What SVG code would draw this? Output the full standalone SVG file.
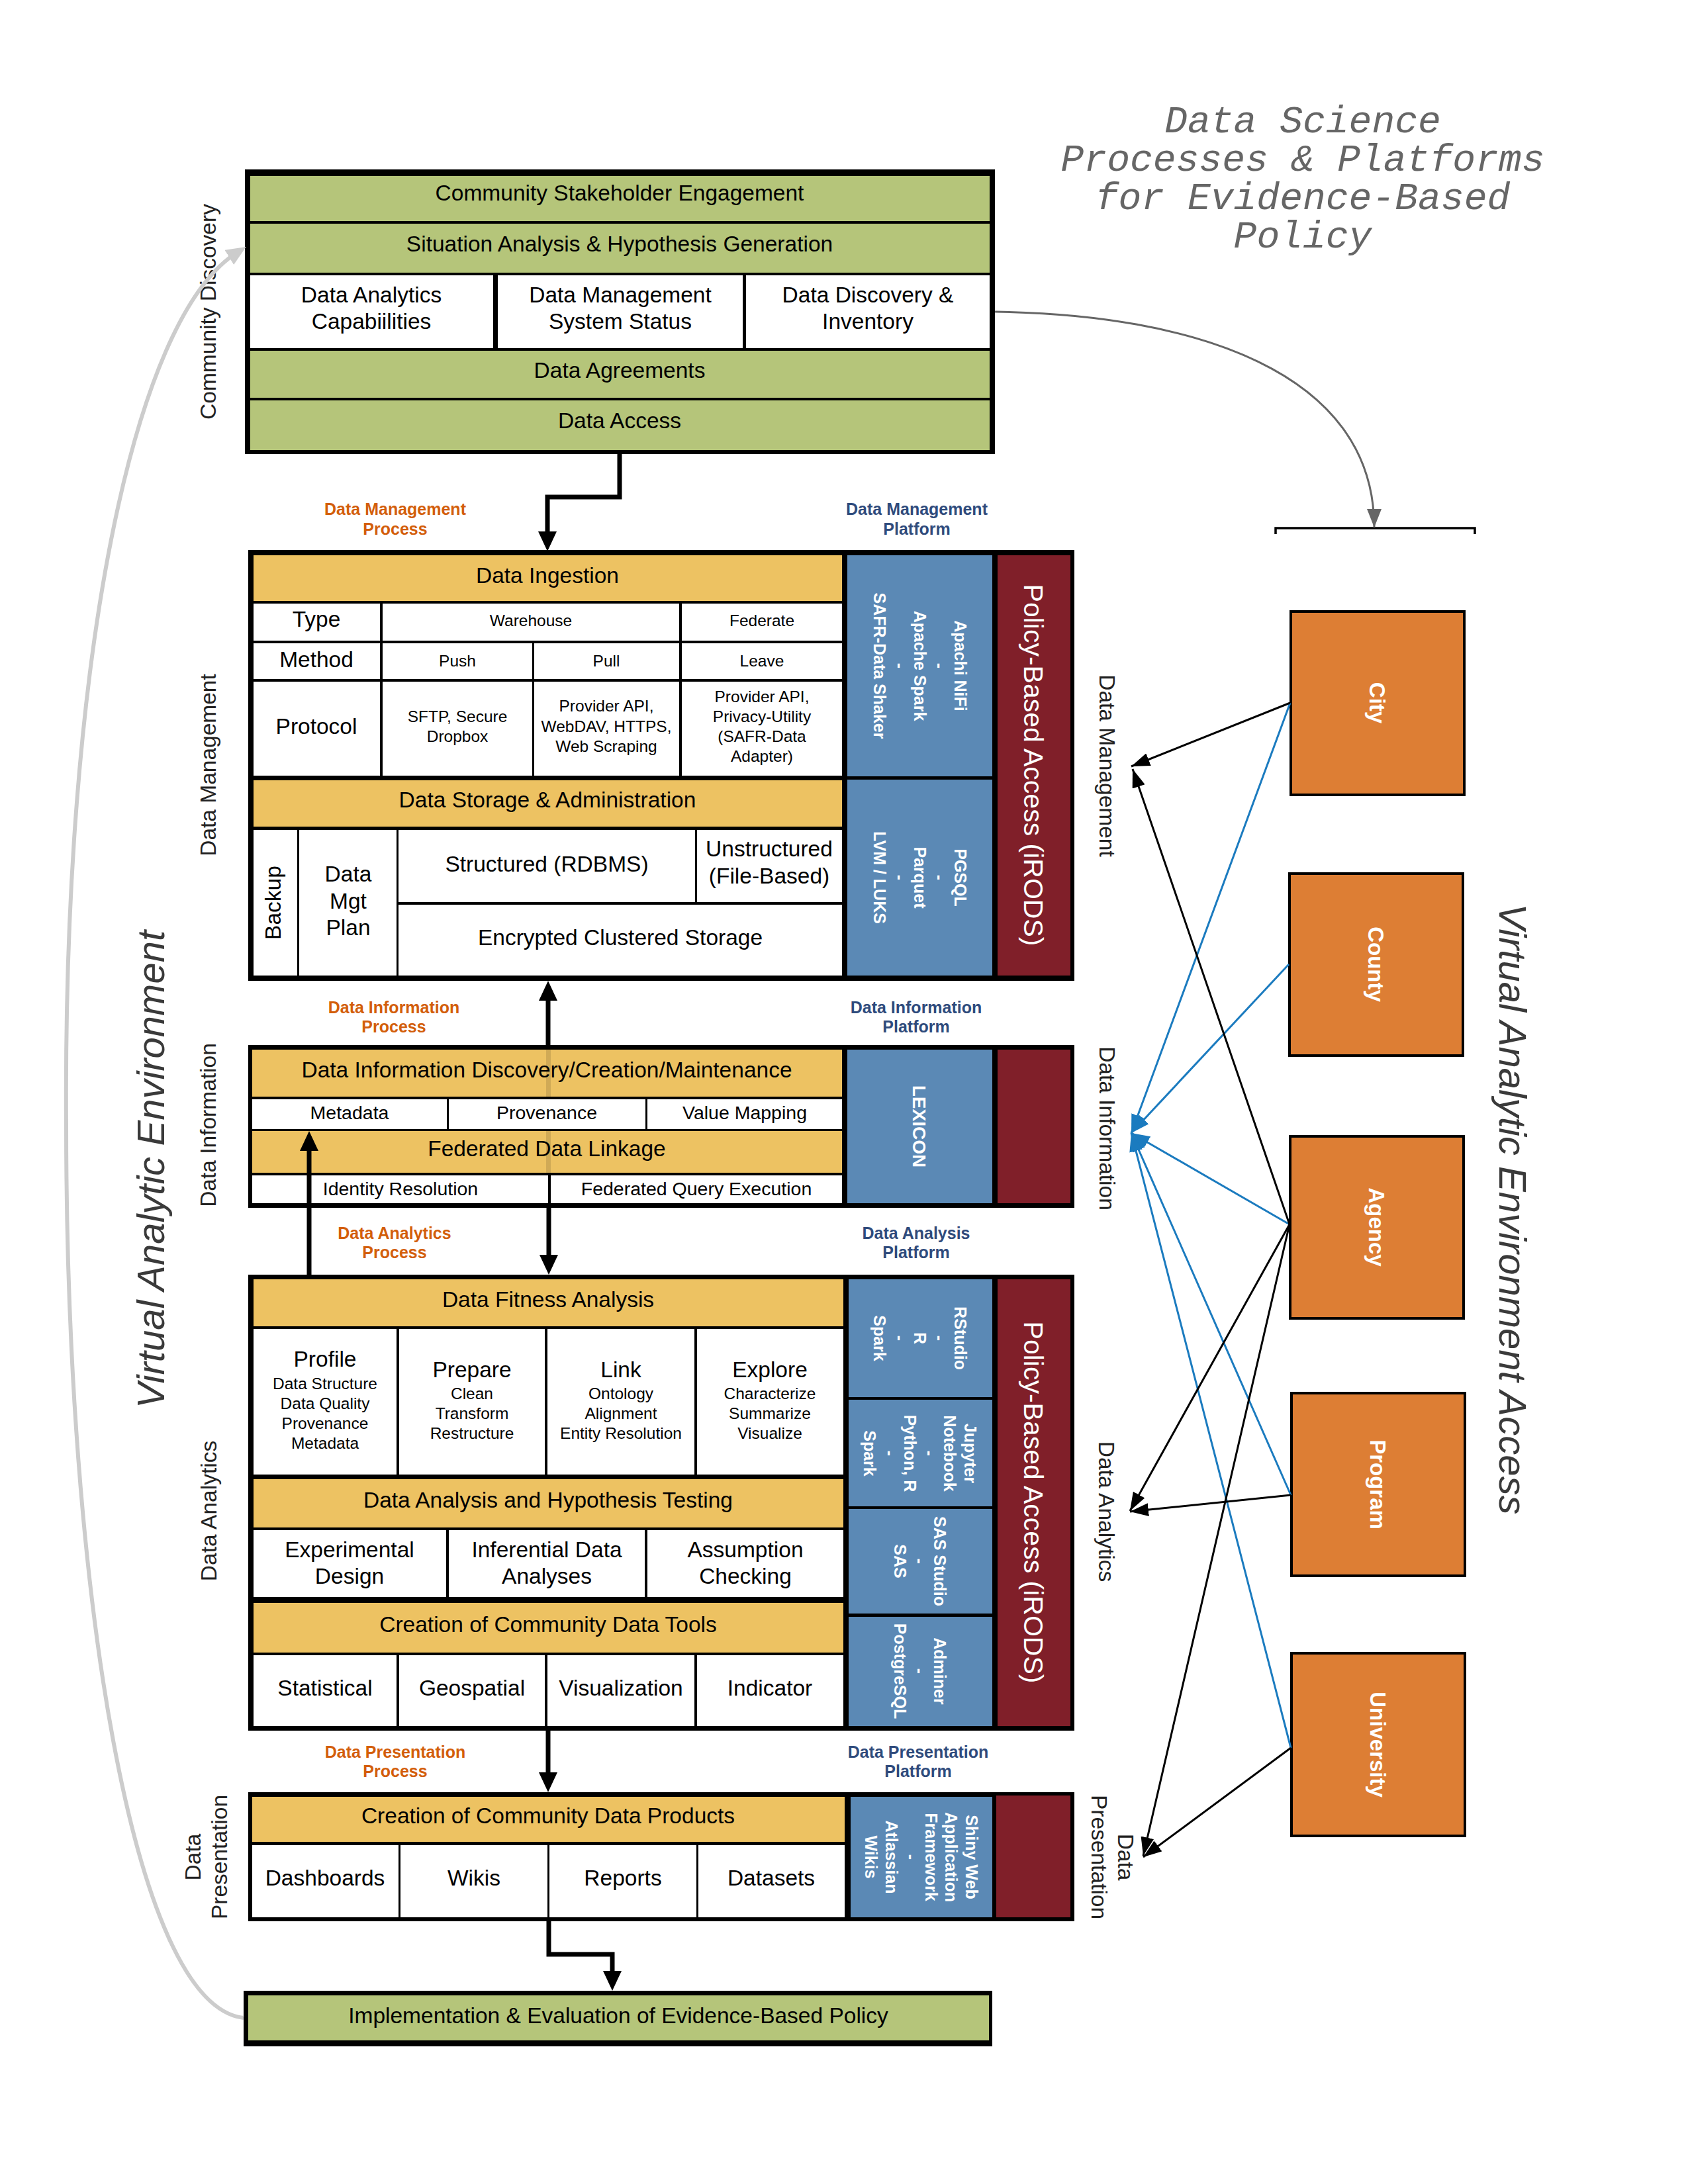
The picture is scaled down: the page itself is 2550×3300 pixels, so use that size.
<svg xmlns="http://www.w3.org/2000/svg" width="2550" height="3300" viewBox="0 0 2550 3300">
<defs>
<style>
text{font-family:"Liberation Sans",Arial,sans-serif;text-anchor:middle;fill:#000}
.L{font-size:33.5px}
.M{font-size:28.5px}
.S{font-size:24.5px}
.bw{font-size:25px;font-weight:bold;fill:#fff}
.lx{font-size:28px;font-weight:bold;fill:#fff}
.rw{font-size:41px;fill:#fff}
.pr{font-size:25px;font-weight:bold;fill:#d35e0b}
.pl{font-size:25px;font-weight:bold;fill:#2f4b7c}
.sd{font-size:33.5px;fill:#222}
.va{font-size:58px;font-style:italic;fill:#3a3a3a}
.ti{font-family:"Liberation Mono","Courier New",monospace;font-size:58px;font-style:italic;fill:#666}
.ow{font-size:33px;font-weight:bold;fill:#fff}
.bk{fill:#000}
.g{fill:#b5c57a}
.y{fill:#edc262}
.w{fill:#fff}
.b{fill:#5b89b5}
.r{fill:#801f29}
.ob{fill:#dd7e34;stroke:#000;stroke-width:4}
.thick{fill:none;stroke:#000;stroke-width:7;marker-end:url(#aT)}
.blk{fill:none;stroke:#000;stroke-width:3;marker-end:url(#aK)}
.blu{fill:none;stroke:#1b7bbf;stroke-width:3;marker-end:url(#aB)}
</style>
<marker id="aT" viewBox="0 0 10 10" refX="5" refY="5" markerUnits="userSpaceOnUse" markerWidth="30" markerHeight="28" preserveAspectRatio="none" orient="auto"><path d="M0,0L10,5L0,10z" fill="#000"/></marker>
<marker id="aK" viewBox="0 0 10 10" refX="10" refY="5" markerUnits="userSpaceOnUse" markerWidth="28" markerHeight="20" preserveAspectRatio="none" orient="auto"><path d="M0,0L10,5L0,10z" fill="#000"/></marker>
<marker id="aB" viewBox="0 0 10 10" refX="10" refY="5" markerUnits="userSpaceOnUse" markerWidth="28" markerHeight="20" preserveAspectRatio="none" orient="auto"><path d="M0,0L10,5L0,10z" fill="#1b7bbf"/></marker>
<marker id="aG" viewBox="0 0 10 10" refX="10" refY="5" markerUnits="userSpaceOnUse" markerWidth="28" markerHeight="22" preserveAspectRatio="none" orient="auto"><path d="M0,0L10,5L0,10z" fill="#666"/></marker>
<marker id="aL" viewBox="0 0 10 10" refX="5" refY="5" markerUnits="userSpaceOnUse" markerWidth="30" markerHeight="26" preserveAspectRatio="none" orient="auto"><path d="M0,0L10,5L0,10z" fill="#ccc"/></marker>
</defs>
<rect width="2550" height="3300" fill="#fff"/>

<g id="title">
<text class="ti" x="1968" y="200">Data Science</text>
<text class="ti" x="1968" y="258">Processes &amp; Platforms</text>
<text class="ti" x="1968" y="316">for Evidence-Based</text>
<text class="ti" x="1968" y="374">Policy</text>
</g>

<g id="side-labels">
<text class="sd" transform="translate(326,471) rotate(-90)">Community Discovery</text>
<text class="sd" transform="translate(326,1156) rotate(-90)">Data Management</text>
<text class="sd" transform="translate(326,1700) rotate(-90)">Data Information</text>
<text class="sd" transform="translate(327,2283) rotate(-90)">Data Analytics</text>
<text class="sd" transform="translate(303,2806) rotate(-90)"><tspan x="0" y="0">Data</tspan><tspan x="0" y="40">Presentation</tspan></text>
<text class="va" transform="translate(248,1767) rotate(-90)">Virtual Analytic Environment</text>
<text class="sd" transform="translate(1661,1157) rotate(90)">Data Management</text>
<text class="sd" transform="translate(1661,1705) rotate(90)">Data Information</text>
<text class="sd" transform="translate(1660,2284) rotate(90)">Data Analytics</text>
<text class="sd" transform="translate(1689,2806) rotate(90)"><tspan x="0" y="0">Data</tspan><tspan x="0" y="40">Presentation</tspan></text>
<text class="va" transform="translate(2265,1827) rotate(90)">Virtual Analytic Environment Access</text>
</g>

<g id="stage-labels">
<text class="pr" x="597" y="778">Data Management</text><text class="pr" x="597" y="808">Process</text>
<text class="pl" x="1385" y="778">Data Management</text><text class="pl" x="1385" y="808">Platform</text>
<text class="pr" x="595" y="1531">Data Information</text><text class="pr" x="595" y="1560">Process</text>
<text class="pl" x="1384" y="1531">Data Information</text><text class="pl" x="1384" y="1560">Platform</text>
<text class="pr" x="596" y="1872">Data Analytics</text><text class="pr" x="596" y="1901">Process</text>
<text class="pl" x="1384" y="1872">Data Analysis</text><text class="pl" x="1384" y="1901">Platform</text>
<text class="pr" x="597" y="2656">Data Presentation</text><text class="pr" x="597" y="2685">Process</text>
<text class="pl" x="1387" y="2656">Data Presentation</text><text class="pl" x="1387" y="2685">Platform</text>
</g>

<g id="community-discovery">
<rect class="bk" x="370" y="256" width="1133" height="430"/>
<rect class="g" x="378" y="266" width="1117" height="68"/>
<rect class="g" x="378" y="338" width="1117" height="74"/>
<rect class="w" x="378" y="416" width="367" height="110"/>
<rect class="w" x="752" y="416" width="370" height="110"/>
<rect class="w" x="1127" y="416" width="368" height="110"/>
<rect class="g" x="378" y="530" width="1117" height="71"/>
<rect class="g" x="378" y="605" width="1117" height="75"/>
<text class="L" x="936" y="303">Community Stakeholder Engagement</text>
<text class="L" x="936" y="380">Situation Analysis &amp; Hypothesis Generation</text>
<text class="L" x="561"><tspan x="561" y="457">Data Analytics</tspan><tspan x="561" y="497">Capabiilities</tspan></text>
<text class="L" x="937"><tspan x="937" y="457">Data Management</tspan><tspan x="937" y="497">System Status</tspan></text>
<text class="L" x="1311"><tspan x="1311" y="457">Data Discovery &amp;</tspan><tspan x="1311" y="497">Inventory</tspan></text>
<text class="L" x="936" y="571">Data Agreements</text>
<text class="L" x="936" y="647">Data Access</text>
</g>

<g id="data-management">
<rect class="bk" x="375" y="831" width="1248" height="651"/>
<rect class="y" x="383" y="839" width="889" height="69"/>
<rect class="w" x="383" y="912" width="191" height="56"/>
<rect class="w" x="578" y="912" width="448" height="56"/>
<rect class="w" x="1030" y="912" width="242" height="56"/>
<rect class="w" x="383" y="972" width="191" height="54"/>
<rect class="w" x="578" y="972" width="226" height="54"/>
<rect class="w" x="807" y="972" width="219" height="54"/>
<rect class="w" x="1030" y="972" width="242" height="54"/>
<rect class="w" x="383" y="1030" width="191" height="142"/>
<rect class="w" x="578" y="1030" width="226" height="142"/>
<rect class="w" x="807" y="1030" width="219" height="142"/>
<rect class="w" x="1030" y="1030" width="242" height="142"/>
<rect class="y" x="383" y="1179" width="889" height="70"/>
<rect class="w" x="383" y="1254" width="66" height="220"/>
<rect class="w" x="452" y="1254" width="147" height="220"/>
<rect class="w" x="602" y="1254" width="448" height="109"/>
<rect class="w" x="1053" y="1254" width="219" height="109"/>
<rect class="w" x="602" y="1367" width="670" height="107"/>
<rect class="b" x="1280" y="839" width="219" height="334"/>
<rect class="b" x="1280" y="1178" width="219" height="296"/>
<rect class="r" x="1507" y="839" width="110" height="635"/>
<text class="L" x="827" y="881">Data Ingestion</text>
<text class="L" x="478" y="947">Type</text>
<text class="L" x="478" y="1008">Method</text>
<text class="L" x="478" y="1109">Protocol</text>
<text class="S" x="802" y="946">Warehouse</text>
<text class="S" x="1151" y="946">Federate</text>
<text class="S" x="691" y="1007">Push</text>
<text class="S" x="916" y="1007">Pull</text>
<text class="S" x="1151" y="1007">Leave</text>
<text class="S"><tspan x="691" y="1091">SFTP, Secure</tspan><tspan x="691" y="1121">Dropbox</tspan></text>
<text class="S"><tspan x="916" y="1075">Provider API,</tspan><tspan x="916" y="1106">WebDAV, HTTPS,</tspan><tspan x="916" y="1136">Web Scraping</tspan></text>
<text class="S"><tspan x="1151" y="1061">Provider API,</tspan><tspan x="1151" y="1091">Privacy-Utility</tspan><tspan x="1151" y="1121">(SAFR-Data</tspan><tspan x="1151" y="1151">Adapter)</tspan></text>
<text class="L" x="827" y="1220">Data Storage &amp; Administration</text>
<text class="L" transform="translate(424,1364) rotate(-90)">Backup</text>
<text class="L"><tspan x="526" y="1332">Data</tspan><tspan x="526" y="1373">Mgt</tspan><tspan x="526" y="1413">Plan</tspan></text>
<text class="L" x="826" y="1317">Structured (RDBMS)</text>
<text class="L"><tspan x="1162" y="1294">Unstructured</tspan><tspan x="1162" y="1335">(File-Based)</tspan></text>
<text class="L" x="937" y="1428">Encrypted Clustered Storage</text>
<text class="bw" transform="translate(1390,1006) rotate(90)"><tspan x="0" y="-51.6">Apachi NiFi</tspan><tspan x="0" y="-21.3">-</tspan><tspan x="0" y="9">Apache Spark</tspan><tspan x="0" y="39.3">-</tspan><tspan x="0" y="69.6">SAFR-Data Shaker</tspan></text>
<text class="bw" transform="translate(1390,1326) rotate(90)"><tspan x="0" y="-51.6">PGSQL</tspan><tspan x="0" y="-21.3">-</tspan><tspan x="0" y="9">Parquet</tspan><tspan x="0" y="39.3">-</tspan><tspan x="0" y="69.6">LVM / LUKS</tspan></text>
<text class="rw" transform="translate(1562,1156) rotate(90)" y="14.7">Policy-Based Access (iRODS)</text>
</g>

<g id="data-information">
<rect class="bk" x="375" y="1579" width="1248" height="246"/>
<rect class="y" x="381" y="1586" width="891" height="71"/>
<rect class="w" x="381" y="1661" width="294" height="45"/>
<rect class="w" x="678" y="1661" width="297" height="45"/>
<rect class="w" x="978" y="1661" width="294" height="45"/>
<rect class="y" x="381" y="1709" width="891" height="63"/>
<rect class="w" x="381" y="1776" width="447" height="42"/>
<rect class="w" x="832" y="1776" width="440" height="42"/>
<rect class="b" x="1280" y="1586" width="219" height="232"/>
<rect class="r" x="1507" y="1586" width="110" height="232"/>
<rect x="825" y="1586" width="7" height="71" fill="#000" opacity="0.12"/>
<rect x="825" y="1709" width="7" height="63" fill="#000" opacity="0.12"/>
<text class="L" x="826" y="1628">Data Information Discovery/Creation/Maintenance</text>
<text class="M" x="528" y="1691">Metadata</text>
<text class="M" x="826" y="1691">Provenance</text>
<text class="M" x="1125" y="1691">Value Mapping</text>
<text class="L" x="826" y="1747">Federated Data Linkage</text>
<text class="M" x="605" y="1806">Identity Resolution</text>
<text class="M" x="1052" y="1806">Federated Query Execution</text>
<text class="lx" transform="translate(1389,1702) rotate(90)" y="10">LEXICON</text>
</g>

<g id="data-analytics">
<rect class="bk" x="375" y="1926" width="1248" height="689"/>
<rect class="y" x="383" y="1933" width="891" height="71"/>
<rect class="w" x="383" y="2008" width="216" height="220"/>
<rect class="w" x="603" y="2008" width="220" height="220"/>
<rect class="w" x="827" y="2008" width="222" height="220"/>
<rect class="w" x="1053" y="2008" width="221" height="220"/>
<rect class="y" x="383" y="2235" width="891" height="73"/>
<rect class="w" x="383" y="2312" width="291" height="101"/>
<rect class="w" x="678" y="2312" width="296" height="101"/>
<rect class="w" x="978" y="2312" width="296" height="101"/>
<rect class="y" x="383" y="2422" width="891" height="75"/>
<rect class="w" x="383" y="2501" width="216" height="107"/>
<rect class="w" x="603" y="2501" width="220" height="107"/>
<rect class="w" x="827" y="2501" width="222" height="107"/>
<rect class="w" x="1053" y="2501" width="221" height="107"/>
<rect class="b" x="1282" y="1933" width="217" height="178"/>
<rect class="b" x="1282" y="2115" width="217" height="161"/>
<rect class="b" x="1282" y="2280" width="217" height="158"/>
<rect class="b" x="1282" y="2443" width="217" height="165"/>
<rect class="r" x="1507" y="1933" width="110" height="675"/>
<text class="L" x="828" y="1975">Data Fitness Analysis</text>
<text class="L" x="491" y="2065">Profile</text>
<text class="S"><tspan x="491" y="2099">Data Structure</tspan><tspan x="491" y="2129">Data Quality</tspan><tspan x="491" y="2159">Provenance</tspan><tspan x="491" y="2189">Metadata</tspan></text>
<text class="L" x="713" y="2081">Prepare</text>
<text class="S"><tspan x="713" y="2114">Clean</tspan><tspan x="713" y="2144">Transform</tspan><tspan x="713" y="2174">Restructure</tspan></text>
<text class="L" x="938" y="2081">Link</text>
<text class="S"><tspan x="938" y="2114">Ontology</tspan><tspan x="938" y="2144">Alignment</tspan><tspan x="938" y="2174">Entity Resolution</tspan></text>
<text class="L" x="1163" y="2081">Explore</text>
<text class="S"><tspan x="1163" y="2114">Characterize</tspan><tspan x="1163" y="2144">Summarize</tspan><tspan x="1163" y="2174">Visualize</tspan></text>
<text class="L" x="828" y="2278">Data Analysis and Hypothesis Testing</text>
<text class="L"><tspan x="528" y="2353">Experimental</tspan><tspan x="528" y="2393">Design</tspan></text>
<text class="L"><tspan x="826" y="2353">Inferential Data</tspan><tspan x="826" y="2393">Analyses</tspan></text>
<text class="L"><tspan x="1126" y="2353">Assumption</tspan><tspan x="1126" y="2393">Checking</tspan></text>
<text class="L" x="828" y="2466">Creation of Community Data Tools</text>
<text class="L" x="491" y="2562">Statistical</text>
<text class="L" x="713" y="2562">Geospatial</text>
<text class="L" x="938" y="2562">Visualization</text>
<text class="L" x="1163" y="2562">Indicator</text>
<text class="bw" transform="translate(1390,2022) rotate(90)"><tspan x="0" y="-51.6">RStudio</tspan><tspan x="0" y="-21.3">-</tspan><tspan x="0" y="9">R</tspan><tspan x="0" y="39.3">-</tspan><tspan x="0" y="69.6">Spark</tspan></text>
<text class="bw" transform="translate(1390,2196) rotate(90)"><tspan x="0" y="-66.75">Jupyter</tspan><tspan x="0" y="-36.45">Notebook</tspan><tspan x="0" y="-6.15">-</tspan><tspan x="0" y="24.15">Python, R</tspan><tspan x="0" y="54.45">-</tspan><tspan x="0" y="84.75">Spark</tspan></text>
<text class="bw" transform="translate(1390,2359) rotate(90)"><tspan x="0" y="-21.3">SAS Studio</tspan><tspan x="0" y="9">-</tspan><tspan x="0" y="39.3">SAS</tspan></text>
<text class="bw" transform="translate(1390,2525) rotate(90)"><tspan x="0" y="-21.3">Adminer</tspan><tspan x="0" y="9">-</tspan><tspan x="0" y="39.3">PostgreSQL</tspan></text>
<text class="rw" transform="translate(1562,2270) rotate(90)" y="14.7">Policy-Based Access (iRODS)</text>
</g>

<g id="data-presentation">
<rect class="bk" x="375" y="2708" width="1248" height="195"/>
<rect class="y" x="381" y="2715" width="895" height="68"/>
<rect class="w" x="381" y="2788" width="221" height="109"/>
<rect class="w" x="605" y="2788" width="222" height="109"/>
<rect class="w" x="830" y="2788" width="222" height="109"/>
<rect class="w" x="1055" y="2788" width="221" height="109"/>
<rect class="b" x="1285" y="2715" width="214" height="182"/>
<rect class="r" x="1505" y="2713" width="112" height="184"/>
<text class="L" x="828" y="2755">Creation of Community Data Products</text>
<text class="L" x="491" y="2849">Dashboards</text>
<text class="L" x="716" y="2849">Wikis</text>
<text class="L" x="941" y="2849">Reports</text>
<text class="L" x="1165" y="2849">Datasets</text>
<text class="bw" transform="translate(1392,2806) rotate(90)"><tspan x="0" y="-66.75">Shiny Web</tspan><tspan x="0" y="-36.45">Application</tspan><tspan x="0" y="-6.15">Framework</tspan><tspan x="0" y="24.15">-</tspan><tspan x="0" y="54.45">Atlassian</tspan><tspan x="0" y="84.75">Wikis</tspan></text>
</g>

<g id="implementation">
<rect class="bk" x="368" y="3008" width="1131" height="84"/>
<rect class="g" x="375" y="3015" width="1119" height="68"/>
<text class="L" x="934" y="3057">Implementation &amp; Evaluation of Evidence-Based Policy</text>
</g>

<g id="access-bracket">
<path d="M1927,807V798H2228V807" fill="none" stroke="#000" stroke-width="3.5"/>
</g>

<g id="city"><rect class="ob" x="1950" y="924" width="262" height="277"/><text class="ow" transform="translate(2081,1062) rotate(90)" y="12">City</text></g>
<g id="county"><rect class="ob" x="1948" y="1320" width="262" height="275"/><text class="ow" transform="translate(2079,1457) rotate(90)" y="12">County</text></g>
<g id="agency"><rect class="ob" x="1949" y="1717" width="262" height="275"/><text class="ow" transform="translate(2080,1854) rotate(90)" y="12">Agency</text></g>
<g id="program"><rect class="ob" x="1951" y="2105" width="262" height="276"/><text class="ow" transform="translate(2082,2243) rotate(90)" y="12">Program</text></g>
<g id="university"><rect class="ob" x="1951" y="2498" width="262" height="276"/><text class="ow" transform="translate(2082,2636) rotate(90)" y="12">University</text></g>

<g id="connectors">
<path class="thick" d="M936,686V751H827V818"/>
<path class="thick" d="M828,1579V1497"/>
<path class="thick" d="M829,1825V1911"/>
<path class="thick" d="M467,1926V1724"/>
<path class="thick" d="M828,2615V2693"/>
<path class="thick" d="M829,2903V2953H925V2993"/>
<path d="M1503,471C1800,475 2076,560 2076,797" fill="none" stroke="#666" stroke-width="3" marker-end="url(#aG)"/>
<path d="M368,3049C200,3030 100,2400 100,1700C95,1000 200,480 359,381" fill="none" stroke="#ccc" stroke-width="6" marker-end="url(#aL)"/>
<path class="blu" d="M1949,1062L1709,1712"/>
<path class="blu" d="M1947,1457L1709,1712"/>
<path class="blu" d="M1948,1850L1709,1712"/>
<path class="blu" d="M1950,2259L1709,1712"/>
<path class="blu" d="M1950,2641L1709,1712"/>
<path class="blk" d="M1949,1062L1709,1158"/>
<path class="blk" d="M1948,1850L1711,1162"/>
<path class="blk" d="M1948,1850L1707,2283"/>
<path class="blk" d="M1950,2259L1707,2284"/>
<path class="blk" d="M1948,1850L1727,2804"/>
<path class="blk" d="M1950,2641L1727,2806"/>
</g>
</svg>
